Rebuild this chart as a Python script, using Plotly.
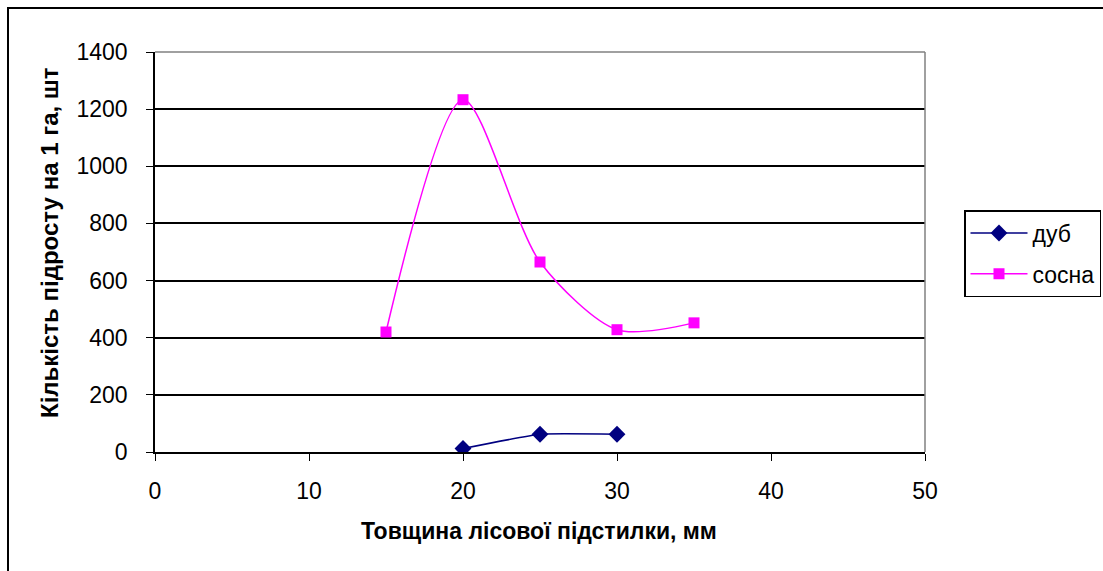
import plotly.graph_objects as go

oak_x = [20, 25, 30]
oak_y = [12, 62, 62]
pine_x = [15, 20, 25, 30, 35]
pine_y = [420, 1233, 665, 428, 452]

x_ticks = [0, 10, 20, 30, 40, 50]
y_ticks = [0, 200, 400, 600, 800, 1000, 1200, 1400]

FONT = "Liberation Sans, Arial, sans-serif"

fig = go.Figure()
fig.add_trace(go.Scatter(
    x=oak_x, y=oak_y, name="дуб", mode="lines+markers", legendgroup="a",
    line=dict(color="#000080", width=1.5, shape="spline", smoothing=0.4),
    marker=dict(symbol="diamond", size=13, color="#000080"),
))
fig.add_trace(go.Scatter(
    x=pine_x, y=pine_y, name="сосна", mode="lines+markers", legendgroup="b",
    line=dict(color="#FF00FF", width=1.5, shape="spline", smoothing=0.8),
    marker=dict(symbol="square", size=11, color="#FF00FF"),
))

W, H = 1103, 571
L, R, T, B = 155, 925, 52, 452
pw, ph = R - L, B - T

def px(x):
    return (x - L) / pw

def py(y):
    return (B - y) / ph

fig.update_layout(
    width=W, height=H,
    margin=dict(l=L, r=W - R, t=T, b=H - B),
    paper_bgcolor="white", plot_bgcolor="white",
    font=dict(family=FONT, size=23, color="black"),
    showlegend=True,
    legend=dict(
        xref="container", yref="container",
        x=964 / W, y=(H - 210) / H, xanchor="left", yanchor="top",
        bordercolor="black", borderwidth=1.5, bgcolor="white",
        font=dict(size=23, family=FONT), itemwidth=57,
        entrywidth=66, entrywidthmode="pixels",
        traceorder="grouped", tracegroupgap=8,
    ),
    xaxis=dict(
        range=[0, 50], tickvals=x_ticks, ticks="outside", ticklen=7,
        tickcolor="black", showline=True, linecolor="black", linewidth=1.5,
        showgrid=False, zeroline=False, ticklabelstandoff=11,
        tickfont=dict(size=23),
    ),
    yaxis=dict(
        range=[0, 1400], tickvals=y_ticks, ticks="outside", ticklen=7,
        tickcolor="black", showline=True, linecolor="black", linewidth=1.5,
        showgrid=True, gridcolor="black", gridwidth=1.5, zeroline=False,
        ticklabelstandoff=14, tickfont=dict(size=23),
    ),
    annotations=[
        dict(text="<b>Товщина лісової підстилки, мм</b>", xref="paper", yref="paper",
             x=px(539), y=py(531), showarrow=False, xanchor="center", yanchor="middle",
             font=dict(size=23)),
        dict(text="<b>Кількість підросту на 1 га, шт</b>", xref="paper", yref="paper",
             x=px(49), y=py(243), showarrow=False, xanchor="center", yanchor="middle",
             textangle=-90, font=dict(size=24)),
    ],
    shapes=[
        dict(type="line", xref="paper", yref="paper", x0=0, x1=1, y0=1, y1=1,
             line=dict(color="#808080", width=1.5)),
        dict(type="line", xref="paper", yref="paper", x0=1, x1=1, y0=0, y1=1,
             line=dict(color="#808080", width=1.5)),
        dict(type="rect", xref="paper", yref="paper",
             x0=px(8), x1=px(1120), y0=py(8), y1=py(590),
             line=dict(color="black", width=2), fillcolor="rgba(0,0,0,0)"),
    ],
)

fig.write_html("out.html")
